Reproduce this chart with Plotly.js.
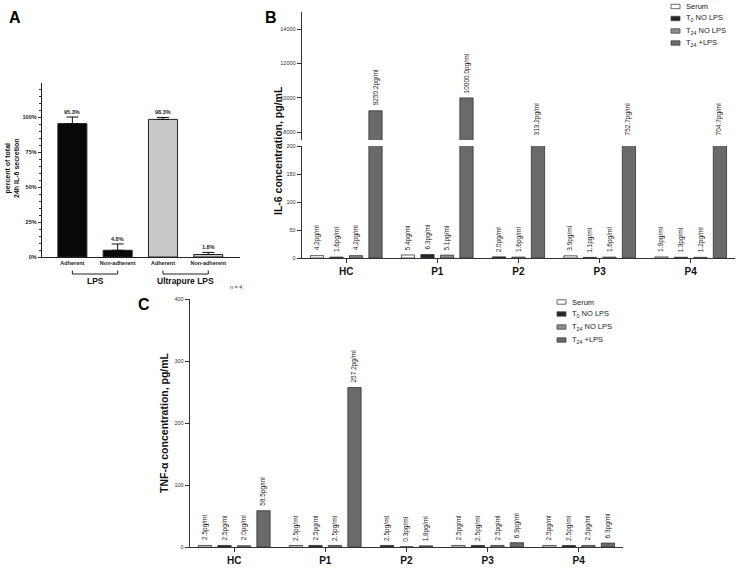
<!DOCTYPE html>
<html><head><meta charset="utf-8">
<script src="https://cdn.plot.ly/plotly-3.0.1.min.js"></script>
<style>html,body{margin:0;padding:0;background:#fff}#chart{width:740px;height:570px}</style>
</head><body><div id="chart"></div>
<script>
// ---------- Panel A data ----------
const aCategories = ["Adherent", "Non-adherent", "Adherent", "Non-adherent"];
const aGroups = ["LPS", "Ultrapure LPS"];
const aValues = [95.3, 4.8, 98.3, 1.8];
const aErrors = [4.7, 4.5, 1.4, 1.5];
const aLabels = ["95.3%", "4.8%", "98.3%", "1.8%"];
const aTicks = [0, 25, 50, 75, 100];
const aTickText = ["0%", "25%", "50%", "75%", "100%"];

// ---------- Panels B and C data ----------
const groups = ["HC", "P1", "P2", "P3", "P4"];
const seriesNames = ["Serum", "T<sub>0</sub> NO LPS", "T<sub>24</sub> NO LPS", "T<sub>24</sub> +LPS"];
// IL-6 (pg/mL)
const il6Serum = [4.2, 5.4, null, 3.9, 1.9];
const il6T0 = [1.6, 6.3, 2.0, 1.1, 1.3];
const il6T24 = [4.2, 5.1, 1.6, 1.6, 1.2];
const il6LPS = [9250.2, 10000.0, 313.2, 752.7, 704.7];
// TNF-alpha (pg/mL)
const tnfSerum = [2.5, 2.5, null, 2.5, 2.5];
const tnfT0 = [2.5, 2.5, 2.5, 2.5, 2.5];
const tnfT24 = [2.0, 2.5, 0.3, 2.5, 2.5];
const tnfLPS = [58.5, 257.2, 1.8, 6.9, 6.3];
const il6LowTicks = [0, 50, 100, 150, 200];
const il6HighTicks = [8000, 10000, 12000, 14000];
const tnfTicks = [0, 100, 200, 300, 400];

// ---------- styles ----------
const FONT = "Liberation Sans, Arial, sans-serif";
const seriesColors = ["#ffffff", "#262626", "#8f8f8f", "#6a6a6a"];
const aColors = ["#080808", "#080808", "#c9c9c9", "#c9c9c9"];
const W = 740, H = 570;
const px = v => v / W;
const py = v => 1 - v / H;
const LOW_MAX = 200, HIGH_MIN = 7550, HIGH_MAX = 15000;

function slotPositions(series) {
  const gap = 2 / 3;
  const xs = series.map(() => []);
  const centers = [];
  let pos = 0;
  groups.forEach((g, gi) => {
    let first = null, last = null;
    series.forEach((s, si) => {
      if (s[gi] === null) { xs[si].push(null); return; }
      xs[si].push(pos);
      if (first === null) first = pos;
      last = pos; pos += 1;
    });
    centers.push((first + last) / 2);
    pos += gap;
  });
  return { xs, centers };
}

const il6 = [il6Serum, il6T0, il6T24, il6LPS];
const tnf = [tnfSerum, tnfT0, tnfT24, tnfLPS];
const slotsB = slotPositions(il6);
const slotsC = slotPositions(tnf);
const BARW = 0.68;

const traces = [];
// Panel A
traces.push({
  type: "bar", x: aCategories.map((c, i) => i), y: aValues, xaxis: "x", yaxis: "y",
  width: 0.64,
  marker: { color: aColors, line: { color: "#222", width: 1 } },
  error_y: { type: "data", symmetric: false, array: aErrors, arrayminus: aErrors.map(() => 0),
             color: "#111", thickness: 1, width: 6 },
  showlegend: false, hoverinfo: "skip"
});
// Panel B (broken axis: lower + upper segments)
il6.forEach((vals, si) => {
  ["y2", "y3"].forEach(ya => {
    traces.push({
      type: "bar", x: slotsB.xs[si], y: vals, xaxis: "x2", yaxis: ya, width: BARW,
      marker: { color: seriesColors[si], line: { color: "#333", width: 0.8 } },
      name: seriesNames[si], showlegend: false, hoverinfo: "skip"
    });
  });
});
// Panel C
tnf.forEach((vals, si) => {
  traces.push({
    type: "bar", x: slotsC.xs[si], y: vals, xaxis: "x3", yaxis: "y4", width: BARW,
    marker: { color: seriesColors[si], line: { color: "#333", width: 0.8 } },
    name: seriesNames[si], showlegend: false, hoverinfo: "skip"
  });
});

const annotations = [];
const shapes = [];
const labelFont = { family: FONT, size: 6.5, color: "#222" };

// value labels panel A
aValues.forEach((v, i) => {
  annotations.push({ xref: "x", yref: "y", x: i, y: v + aErrors[i], text: aLabels[i],
    showarrow: false, yanchor: "bottom", xanchor: "center", yshift: 0,
    font: { family: FONT, size: 5.5, color: "#222", weight: "bold" } });
});
// group brackets panel A
aGroups.forEach((g, gi) => {
  const x0 = gi * 2, x1 = gi * 2 + 1;
  shapes.push({ type: "path", xref: "x", yref: "paper",
    path: `M ${x0},${py(270.5)} L ${x0},${py(274)} L ${x1},${py(274)} L ${x1},${py(270.5)}`,
    line: { color: "#222", width: 1 } });
  annotations.push({ xref: "x", yref: "paper", x: (x0 + x1) / 2, y: py(280.5), text: g,
    showarrow: false, xanchor: "center", yanchor: "middle",
    font: { family: FONT, size: 8.5, color: "#111", weight: "bold" } });
});
annotations.push({ xref: "paper", yref: "paper", x: px(236), y: py(287), text: "n = 4", showarrow: false,
  xanchor: "center", yanchor: "middle", font: { family: FONT, size: 5.5, color: "#333" } });

// value labels panel B
il6.forEach((vals, si) => {
  vals.forEach((v, gi) => {
    if (v === null) return;
    const low = v <= LOW_MAX;
    annotations.push({ xref: "x2", yref: low ? "y2" : "y3", x: slotsB.xs[si][gi],
      y: low ? v : Math.max(v, HIGH_MIN), text: v.toFixed(1) + "pg/ml", textangle: -90,
      showarrow: false, yanchor: "bottom", xanchor: "center", yshift: 3, font: labelFont });
  });
});
// value labels panel C
tnf.forEach((vals, si) => {
  vals.forEach((v, gi) => {
    if (v === null) return;
    annotations.push({ xref: "x3", yref: "y4", x: slotsC.xs[si][gi], y: v,
      text: v.toFixed(1) + "pg/ml", textangle: -90,
      showarrow: false, yanchor: "bottom", xanchor: "center", yshift: 3, font: labelFont });
  });
});

// panel letters
[["A", 15, 18], ["B", 271, 18], ["C", 144, 304]].forEach(([t, x, y]) => {
  annotations.push({ xref: "paper", yref: "paper", x: px(x), y: py(y), text: t, showarrow: false,
    xanchor: "center", yanchor: "middle", font: { family: FONT, size: 16, color: "#000", weight: "bold" } });
});
// axis titles for B and C
annotations.push({ xref: "paper", yref: "paper", x: px(278), y: py(151), text: "IL-6 concentration, pg/mL",
  textangle: -90, showarrow: false, xanchor: "center", yanchor: "middle",
  font: { family: FONT, size: 10.5, color: "#111", weight: "bold" } });
annotations.push({ xref: "paper", yref: "paper", x: px(164), y: py(423), text: "TNF-α concentration, pg/mL",
  textangle: -90, showarrow: false, xanchor: "center", yanchor: "middle",
  font: { family: FONT, size: 10.5, color: "#111", weight: "bold" } });
// panel A y title
annotations.push({ xref: "paper", yref: "paper", x: px(12), y: py(168), text: "percent of total<br>24h IL-6 secretion",
  textangle: -90, showarrow: false, xanchor: "center", yanchor: "middle",
  font: { family: FONT, size: 7, color: "#111", weight: "bold" } });

// manual legends
function legendAt(x, ys) {
  seriesNames.forEach((n, si) => {
    shapes.push({ type: "rect", xref: "paper", yref: "paper",
      x0: px(x), x1: px(x + 9), y0: py(ys[si] + 2.2), y1: py(ys[si] - 2.2),
      fillcolor: seriesColors[si], line: { color: "#444", width: 0.8 } });
    annotations.push({ xref: "paper", yref: "paper", x: px(x + 13), y: py(ys[si]), text: n,
      showarrow: false, xanchor: "left", yanchor: "middle", font: { family: FONT, size: 7.5, color: "#222" } });
  });
}
legendAt(671, [6.5, 18.5, 31, 43]);
legendAt(557, [302, 314, 327, 340]);

const tickFontSmall = { family: FONT, size: 5.5, color: "#333" };
const catFont = { family: FONT, size: 10, color: "#111", weight: "bold" };
const axisBase = { showgrid: false, zeroline: false, showline: true, linecolor: "#333", linewidth: 1.3,
  ticks: "outside", tickcolor: "#333", ticklen: 4, tickwidth: 1, fixedrange: true };

const layout = {
  width: W, height: H, margin: { l: 0, r: 0, t: 0, b: 0 },
  paper_bgcolor: "#fff", plot_bgcolor: "rgba(0,0,0,0)",
  barmode: "overlay", showlegend: false,
  font: { family: FONT },
  xaxis: Object.assign({}, axisBase, { domain: [px(42), px(240)], range: [-0.67, 3.7], anchor: "y",
    tickmode: "array", tickvals: [0, 1, 2, 3], ticktext: aCategories, ticks: "", linecolor: "#222",
    tickfont: { family: FONT, size: 5.5, color: "#222", weight: "bold" } }),
  yaxis: Object.assign({}, axisBase, { domain: [py(257), py(83)], range: [0, 124.3], anchor: "x",
    tickmode: "array", tickvals: aTicks, ticktext: aTickText, ticklen: 3, linecolor: "#222",
    tickfont: { family: FONT, size: 5.5, color: "#222", weight: "bold" },
    minor: { dtick: 5, tick0: 0, ticks: "outside", ticklen: 2, tickcolor: "#333", showgrid: false } }),
  xaxis2: Object.assign({}, axisBase, { domain: [px(302), px(735)], range: [-0.77, 21.44], anchor: "y2",
    tickmode: "array", tickvals: slotsB.centers, ticktext: groups, tickfont: catFont }),
  yaxis2: Object.assign({}, axisBase, { domain: [py(258), py(146)], range: [0, LOW_MAX], anchor: "x2",
    tickmode: "array", tickvals: il6LowTicks, ticktext: il6LowTicks.map(String), tickfont: tickFontSmall }),
  yaxis3: Object.assign({}, axisBase, { domain: [py(140), py(12)], range: [HIGH_MIN, HIGH_MAX], anchor: "x2",
    tickmode: "array", tickvals: il6HighTicks, ticktext: il6HighTicks.map(String), tickfont: tickFontSmall }),
  xaxis3: Object.assign({}, axisBase, { domain: [px(190), px(623)], range: [-0.77, 21.44], anchor: "y4",
    tickmode: "array", tickvals: slotsC.centers, ticktext: groups, tickfont: catFont }),
  yaxis4: Object.assign({}, axisBase, { domain: [py(547), py(299)], range: [0, 400], anchor: "x3",
    tickmode: "array", tickvals: tnfTicks, ticktext: tnfTicks.map(String), tickfont: tickFontSmall }),
  annotations, shapes
};

Plotly.newPlot("chart", traces, layout, { staticPlot: true, displayModeBar: false });
</script></body></html>
